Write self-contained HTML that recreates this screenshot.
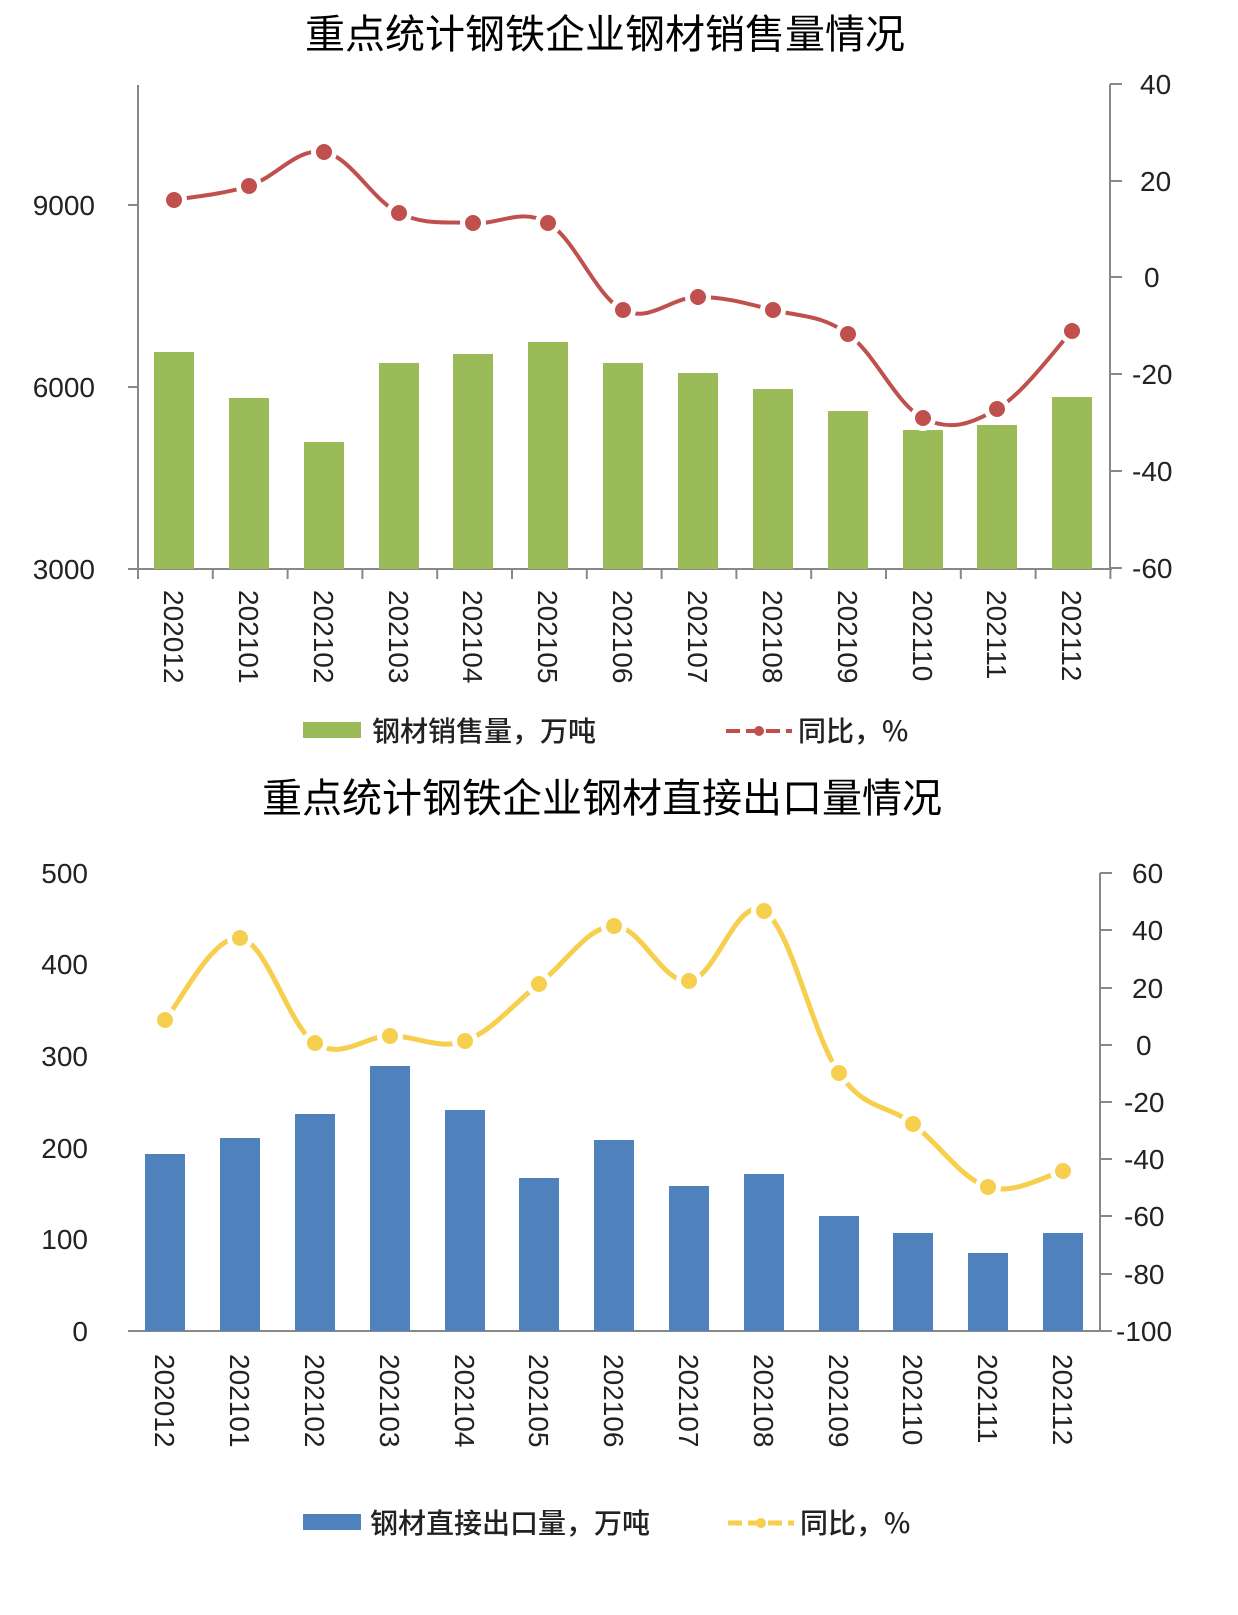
<!DOCTYPE html>
<html><head><meta charset="utf-8"><style>
body{margin:0;background:#fff}
text{font-family:"Liberation Sans","Noto Sans CJK SC",sans-serif;fill:#222}
.cj{font-family:"Noto Sans CJK SC","WenQuanYi Zen Hei",sans-serif}
.lg{font-weight:500}
</style></head><body>
<svg width="1238" height="1610" viewBox="0 0 1238 1610" xmlns="http://www.w3.org/2000/svg">
<text x="605" y="48" text-anchor="middle" class="cj" font-size="40" style="fill:#000">重点统计钢铁企业钢材销售量情况</text>
<g stroke="#888" stroke-width="2" fill="none">
<line x1="138" y1="85" x2="138" y2="570"/>
<line x1="128" y1="569" x2="1112" y2="569"/>
<line x1="1110" y1="84" x2="1110" y2="570"/>
<line x1="1110" y1="84" x2="1122" y2="84"/><line x1="1110" y1="181" x2="1122" y2="181"/><line x1="1110" y1="277" x2="1122" y2="277"/><line x1="1110" y1="374" x2="1122" y2="374"/><line x1="1110" y1="471" x2="1122" y2="471"/><line x1="1110" y1="568" x2="1122" y2="568"/>
<line x1="128" y1="205" x2="138" y2="205"/><line x1="128" y1="387" x2="138" y2="387"/>
</g>
<g font-size="28">
<text x="95" y="215" text-anchor="end">9000</text><text x="95" y="397" text-anchor="end">6000</text><text x="95" y="579" text-anchor="end">3000</text>
<text x="1140" y="94">40</text><text x="1140" y="191">20</text><text x="1144" y="287">0</text><text x="1132" y="384">-20</text><text x="1132" y="481">-40</text><text x="1132" y="578">-60</text>
</g>
<g fill="#9bbb59" id="b1"></g>
<g id="x1" font-size="28"></g>
<path id="l1h" fill="none" stroke="#fff" stroke-width="9" opacity="0.9"/>
<path id="l1" fill="none" stroke="#c0504d" stroke-width="4"/>
<g id="d1"></g>
<rect x="303" y="722" width="58" height="16" fill="#9bbb59"/>
<text x="372" y="741" class="cj lg" font-size="28">钢材销售量，万吨</text>
<line x1="726" y1="731" x2="792" y2="731" stroke="#c0504d" stroke-width="4" stroke-dasharray="14,6"/>
<circle cx="759" cy="731" r="5" fill="#c0504d"/>
<text x="798" y="741" class="cj lg" font-size="28">同比，%</text>

<text x="602" y="812" text-anchor="middle" class="cj" font-size="40" style="fill:#000">重点统计钢铁企业钢材直接出口量情况</text>
<g stroke="#888" stroke-width="2" fill="none">
<line x1="128" y1="1331" x2="1101" y2="1331"/>
<line x1="1100" y1="873" x2="1100" y2="1332"/>
<line x1="1100" y1="873" x2="1112" y2="873"/><line x1="1100" y1="930" x2="1112" y2="930"/><line x1="1100" y1="988" x2="1112" y2="988"/><line x1="1100" y1="1045" x2="1112" y2="1045"/><line x1="1100" y1="1102" x2="1112" y2="1102"/><line x1="1100" y1="1159" x2="1112" y2="1159"/><line x1="1100" y1="1216" x2="1112" y2="1216"/><line x1="1100" y1="1274" x2="1112" y2="1274"/><line x1="1100" y1="1331" x2="1112" y2="1331"/>
</g>
<g font-size="28">
<text x="88" y="883" text-anchor="end">500</text><text x="88" y="974" text-anchor="end">400</text><text x="88" y="1066" text-anchor="end">300</text><text x="88" y="1158" text-anchor="end">200</text><text x="88" y="1249" text-anchor="end">100</text><text x="88" y="1341" text-anchor="end">0</text>
<text x="1132" y="883">60</text><text x="1132" y="940">40</text><text x="1132" y="998">20</text><text x="1136" y="1055">0</text><text x="1124" y="1112">-20</text><text x="1124" y="1169">-40</text><text x="1124" y="1226">-60</text><text x="1124" y="1284">-80</text><text x="1116" y="1341">-100</text>
</g>
<g fill="#4f81bd" id="b2"></g>
<g id="x2" font-size="28"></g>
<path id="l2h" fill="none" stroke="#fff" stroke-width="9" opacity="0.9"/>
<path id="l2" fill="none" stroke="#f7cf4f" stroke-width="5"/>
<g id="d2"></g>
<rect x="303" y="1514" width="58" height="16" fill="#4f81bd"/>
<text x="370" y="1533" class="cj lg" font-size="28">钢材直接出口量，万吨</text>
<line x1="728" y1="1523" x2="794" y2="1523" stroke="#f7cf4f" stroke-width="5" stroke-dasharray="14,6"/>
<circle cx="761" cy="1523" r="5" fill="#f7cf4f"/>
<text x="800" y="1533" class="cj lg" font-size="28">同比，%</text>
</svg>
<script>
var NS="http://www.w3.org/2000/svg";
function el(p,t,a,txt){var e=document.createElementNS(NS,t);for(var k in a)e.setAttribute(k,a[k]);if(txt)e.textContent=txt;p.appendChild(e);return e;}
var labs=["202012","202101","202102","202103","202104","202105","202106","202107","202108","202109","202110","202111","202112"];
function smooth(pts){var d="M"+pts[0][0]+","+pts[0][1];for(var i=0;i<pts.length-1;i++){var p0=pts[i-1]||pts[i],p1=pts[i],p2=pts[i+1],p3=pts[i+2]||p2;var t=0.18;d+=" C"+(p1[0]+(p2[0]-p0[0])*t)+","+(p1[1]+(p2[1]-p0[1])*t)+" "+(p2[0]-(p3[0]-p1[0])*t)+","+(p2[1]-(p3[1]-p1[1])*t)+" "+p2[0]+","+p2[1];}return d;}
function build(n,cx,tops,base,lys,col,xy,ticks){
 var b=document.getElementById("b"+n),x=document.getElementById("x"+n),d=document.getElementById("d"+n);
 var svg=document.querySelector("svg");
 for(var i=0;i<13;i++){el(b,"rect",{x:cx[i]-20,y:tops[i],width:40,height:base-tops[i]});
  el(x,"text",{transform:"translate("+(cx[i]-10)+","+(xy)+") rotate(90)"},labs[i]);}
 if(ticks){for(var i=0;i<=13;i++){var tx=138+i*74.8;el(svg,"line",{x1:tx,y1:569,x2:tx,y2:579,stroke:"#888","stroke-width":2});}}
 var pts=cx.map(function(c,i){return [c,lys[i]];});
 var p=smooth(pts);document.getElementById("l"+n).setAttribute("d",p);document.getElementById("l"+n+"h").setAttribute("d",p);
 for(var i=0;i<13;i++){el(d,"circle",{cx:cx[i],cy:lys[i],r:13,fill:"#fff"});el(d,"circle",{cx:cx[i],cy:lys[i],r:8,fill:col});}
}
build(1,[174,249,324,399,473,548,623,698,773,848,923,997,1072],[352,398,442,363,354,342,363,373,389,411,430,425,397],569,
 [200,186,152,213,223,223,310,297,310,334,418,409,331],"#c0504d",590,true);
build(2,[165,240,315,390,465,539,614,689,764,839,913,988,1063],[1154,1138,1114,1066,1110,1178,1140,1186,1174,1216,1233,1253,1233],1331,
 [1020,938,1043,1036,1041,984,926,981,911,1073,1124,1187,1171],"#f7cf4f",1354,false);
</script>
</body></html>
